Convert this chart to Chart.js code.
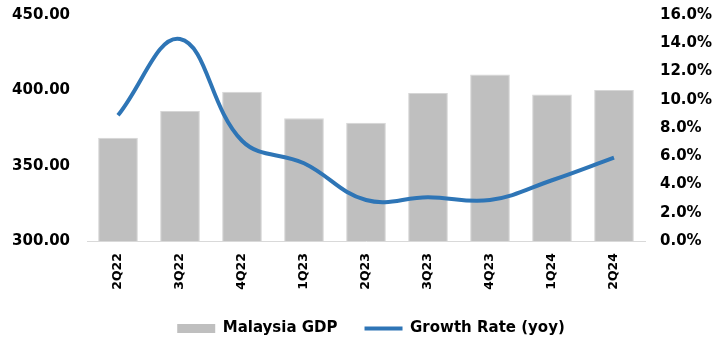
<!DOCTYPE html>
<html>
<head>
<meta charset="utf-8">
<script src="https://cdn.jsdelivr.net/npm/chart.js@4/dist/chart.umd.min.js"></script>
<style>
  html, body { margin: 0; padding: 0; background: #ffffff; }
  #wrap { width: 720px; height: 343px; position: relative; }
</style>
</head>
<body>
<div id="wrap"><canvas id="c" width="720" height="343"></canvas></div>
<script>
// Quarterly real GDP (RM billion) and year-on-year growth (%)
const quarters = ['2Q22', '3Q22', '4Q22', '1Q23', '2Q23', '3Q23', '4Q23', '1Q24', '2Q24'];
const gdpValues = [368.6, 386.3, 399.0, 381.4, 378.5, 398.3, 410.5, 397.3, 400.3];
const growthRates = [8.9, 14.3, 7.1, 5.5, 2.9, 3.1, 2.9, 4.3, 5.9];

const FONT = "'DejaVu Sans', Verdana, sans-serif";
const INK = '#000000';
const BAR_GREY = '#bfbfbf';
const LINE_BLUE = '#2e75b6';
const CLEAR = 'rgba(0,0,0,0)';

// Nudge the legend slightly right of centre and a touch lower
const legendShift = {
  id: 'legendShift',
  afterLayout(chart) {
    const lg = chart.legend;
    if (lg) {
      lg.left += 11; lg.right += 11;
      lg.top += 3; lg.bottom += 3;
    }
  }
};

// Invisible tick marks keep the labels away from the plot edge
const hiddenTicks = (len) => ({
  display: true,
  drawOnChartArea: false,
  drawTicks: true,
  tickLength: len,
  color: CLEAR,
  tickColor: CLEAR
});

new Chart(document.getElementById('c'), {
  data: {
    labels: quarters,
    datasets: [
      {
        type: 'line',
        label: 'Growth Rate (yoy)',
        data: growthRates,
        yAxisID: 'yRate',
        borderColor: LINE_BLUE,
        backgroundColor: LINE_BLUE,
        borderWidth: 4,
        pointRadius: 0,
        tension: 0.4,
        order: 0
      },
      {
        type: 'bar',
        label: 'Malaysia GDP',
        data: gdpValues,
        yAxisID: 'yGdp',
        backgroundColor: BAR_GREY,
        borderColor: '#d6d6d6',
        borderWidth: 1,
        categoryPercentage: 0.8,
        barPercentage: 0.8,
        order: 1
      }
    ]
  },
  plugins: [legendShift],
  options: {
    responsive: false,
    animation: false,
    layout: { padding: { top: 15, bottom: 0, left: 0, right: 0 } },
    plugins: {
      tooltip: { enabled: false },
      legend: {
        position: 'bottom',
        labels: {
          font: { family: FONT, size: 15, weight: 'bold' },
          color: INK,
          usePointStyle: true,
          pointStyleWidth: 38,
          boxHeight: 9,
          padding: 27,
          generateLabels: () => [
            { text: 'Malaysia GDP', pointStyle: 'rect', fillStyle: BAR_GREY, strokeStyle: BAR_GREY, lineWidth: 0, datasetIndex: 1 },
            { text: 'Growth Rate (yoy)', pointStyle: 'line', fillStyle: LINE_BLUE, strokeStyle: LINE_BLUE, lineWidth: 4, datasetIndex: 0 }
          ]
        }
      }
    },
    scales: {
      x: {
        grid: { display: false, drawTicks: false },
        border: { display: true, color: '#d9d9d9', width: 1 },
        ticks: {
          font: { family: FONT, size: 12.5, weight: 'bold' },
          color: INK,
          minRotation: 90,
          maxRotation: 90,
          padding: 12
        },
        afterFit: (s) => { s.height = 50; }
      },
      yGdp: {
        position: 'left',
        min: 300,
        max: 450,
        grid: hiddenTicks(17),
        border: { display: false },
        ticks: {
          stepSize: 50,
          font: { family: FONT, size: 15, weight: 'bold' },
          color: INK,
          padding: 0,
          callback: (v) => v.toFixed(2)
        },
        afterFit: (s) => { s.width = 87; }
      },
      yRate: {
        position: 'right',
        min: 0,
        max: 16,
        grid: hiddenTicks(15),
        border: { display: false },
        ticks: {
          stepSize: 2,
          font: { family: FONT, size: 15, weight: 'bold' },
          color: INK,
          padding: 0,
          callback: (v) => v.toFixed(1) + '%'
        },
        afterFit: (s) => { s.width = 75; }
      }
    }
  }
});
</script>
</body>
</html>
